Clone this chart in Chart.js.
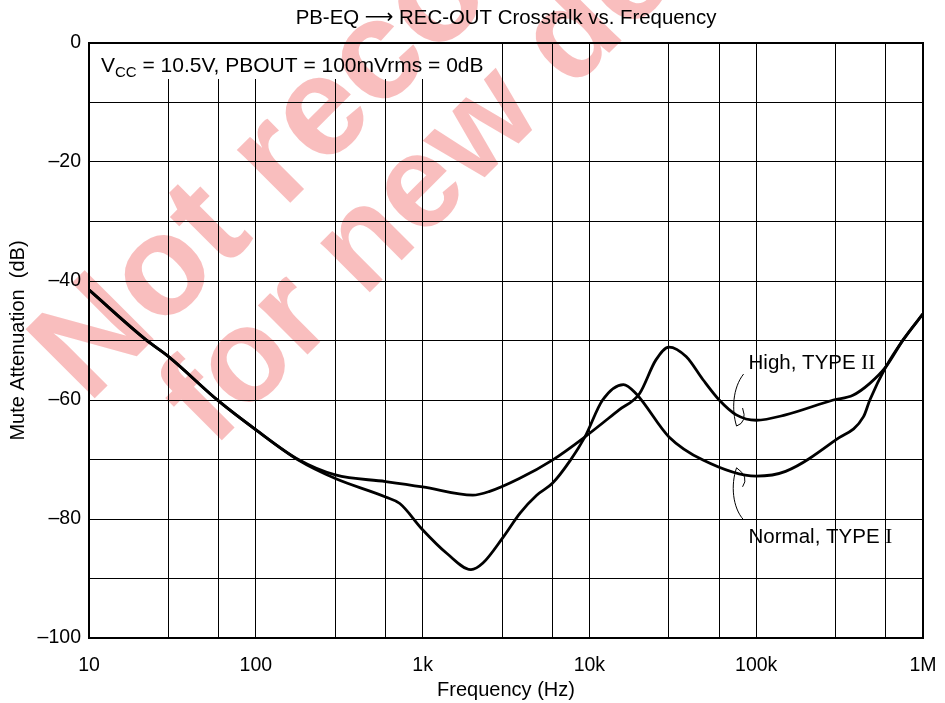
<!DOCTYPE html>
<html>
<head>
<meta charset="utf-8">
<script src="https://cdn.jsdelivr.net/npm/chart.js@4.4.1/dist/chart.umd.min.js"></script>
<style>
  html, body { margin: 0; padding: 0; background: #fff; }
  canvas { display: block; }
</style>
</head>
<body>
<canvas id="crosstalkChart" width="945" height="703"></canvas>
<script>
// PB-EQ -> REC-OUT crosstalk

const highFreq = [10, 22, 30, 60, 100, 180, 300, 600, 1000, 2000, 2500, 3800, 6000, 9400,
  15000, 20000, 25000, 30000, 38000, 48000, 60000, 76000, 100000, 150000, 290000, 380000,
  480000, 600000, 760000, 1000000];
const highDb = [-41.5, -49.9, -52.7, -60.2, -65.0, -70.0, -72.6, -73.7, -74.6, -76.0, -75.4,
  -73.2, -70.1, -66.2, -61.7, -58.9, -53.3, -51.1, -52.7, -56.6, -60.0, -62.5, -63.4, -62.5,
  -60.0, -59.2, -57.2, -54.4, -49.9, -45.5];

const normalFreq = [10, 22, 30, 60, 100, 180, 300, 600, 730, 1000, 1400, 1950, 2300, 3050,
  3840, 4830, 6000, 7700, 9400, 12000, 16000, 19000, 30000, 48000, 100000, 150000, 300000,
  440000, 480000, 600000, 760000, 1000000];
const normalDb = [-41.5, -49.9, -52.7, -60.2, -65.0, -70.1, -73.2, -76.3, -77.4, -81.8, -85.8,
  -88.5, -87.4, -83.0, -79.0, -76.0, -74.0, -70.1, -66.2, -60.0, -57.4, -58.9, -66.2, -70.1,
  -72.8, -72.0, -66.7, -62.8, -60.0, -54.4, -49.9, -45.5];

const xGridValues = [10, 30, 60, 100, 300, 600, 1000, 3000, 6000, 10000, 30000, 60000,
  100000, 300000, 600000, 1000000];
const xTickLabels = { 10: '10', 100: '100', 1000: '1k', 10000: '10k', 100000: '100k', 1000000: '1M' };

const titleParts = ['PB-EQ ', '\u27F6', ' REC-OUT Crosstalk vs. Frequency'];
const seriesLabels = ['High, TYPE ', 'Normal, TYPE '];
const seriesNumerals = ['II', 'I'];
const labelFreq = 90000;
const labelDb = [-54.8, -84.0];

const FONT = "'Liberation Sans', Arial, Helvetica, sans-serif";
const SERIF = "'Liberation Serif', 'Times New Roman', serif";

function toPoints(xs, ys) {
  return xs.map((x, i) => ({ x: x, y: ys[i] }));
}

const decorations = {
  id: 'decorations',
  beforeDraw(chart) {
    const ctx = chart.ctx;
    ctx.save();
    ctx.fillStyle = '#fff';
    ctx.fillRect(0, 0, chart.width, chart.height);
    ctx.restore();
  },
  beforeDatasetsDraw(chart) {
    // condition box in the top-left corner, it hides the grid
    const ctx = chart.ctx;
    const a = chart.chartArea;
    ctx.save();
    ctx.fillStyle = '#fff';
    ctx.fillRect(a.left, a.top, 402, 36);
    ctx.fillStyle = '#000';
    ctx.textBaseline = 'alphabetic';
    let x = a.left + 12;
    ctx.font = '21px ' + FONT;
    ctx.fillText('V', x, a.top + 29);
    x += ctx.measureText('V').width;
    ctx.font = '15px ' + FONT;
    ctx.fillText('CC', x, a.top + 34);
    x += ctx.measureText('CC').width;
    ctx.font = '21px ' + FONT;
    ctx.fillText(' = 10.5V, PBOUT = 100mVrms = 0dB', x, a.top + 29);
    ctx.restore();
  },
  afterDatasetsDraw(chart) {
    const ctx = chart.ctx;
    const a = chart.chartArea;
    const xs = chart.scales.x;
    const ys = chart.scales.y;
    ctx.save();

    // frame
    ctx.strokeStyle = '#000';
    ctx.lineWidth = 2;
    ctx.strokeRect(a.left, a.top, a.right - a.left, a.bottom - a.top);

    // title, the arrow comes from another font
    ctx.fillStyle = '#000';
    ctx.textBaseline = 'middle';
    ctx.textAlign = 'left';
    const fonts = ['20.4px ' + FONT, '20px "DejaVu Sans", ' + FONT, '20.4px ' + FONT];
    const widths = titleParts.map((t, i) => { ctx.font = fonts[i]; return ctx.measureText(t).width; });
    let tx = (a.left + a.right) / 2 - widths.reduce((s, w) => s + w, 0) / 2;
    titleParts.forEach((t, i) => {
      ctx.font = fonts[i];
      ctx.fillText(t, tx, 18);
      tx += widths[i];
    });

    // curve labels
    ctx.textBaseline = 'alphabetic';
    const lx = xs.getPixelForValue(labelFreq);
    seriesLabels.forEach((txt, i) => {
      const ly = ys.getPixelForValue(labelDb[i]);
      ctx.font = '20.5px ' + FONT;
      ctx.fillText(txt, lx, ly);
      const w = ctx.measureText(txt).width;
      ctx.font = '21px ' + SERIF;
      ctx.fillText(seriesNumerals[i], lx + w, ly);
    });

    // leader lines
    ctx.lineWidth = 1;
    const hy = ys.getPixelForValue(labelDb[0]);
    ctx.beginPath();
    ctx.moveTo(lx - 5, hy + 5);
    ctx.bezierCurveTo(lx - 16, hy + 19, lx - 17, hy + 41, lx - 12, hy + 57);
    ctx.quadraticCurveTo(lx - 1, hy + 53, lx - 6, hy + 39);
    ctx.stroke();

    const ny = ys.getPixelForValue(labelDb[1]);
    ctx.beginPath();
    ctx.moveTo(lx - 5, ny - 23);
    ctx.bezierCurveTo(lx - 16, ny - 35, lx - 18, ny - 58, lx - 12, ny - 75);
    ctx.quadraticCurveTo(lx + 1, ny - 66, lx - 6, ny - 56);
    ctx.stroke();
    ctx.restore();
  },
  afterDraw(chart) {
    // "Not recommended for new designs" stamp
    const ctx = chart.ctx;
    ctx.save();
    ctx.globalCompositeOperation = 'multiply';
    ctx.fillStyle = '#f9bebe';
    ctx.textAlign = 'left';
    ctx.textBaseline = 'alphabetic';
    const stamp = [
      { text: 'Not recommended', x: 88, y: 405, size: 142 },
      { text: 'for new designs', x: 213, y: 449, size: 132 }
    ];
    stamp.forEach(s => {
      ctx.save();
      ctx.font = 'bold ' + s.size + 'px ' + FONT;
      ctx.translate(s.x, s.y);
      ctx.rotate(-Math.PI / 4);
      ctx.fillText(s.text, 0, 0);
      ctx.restore();
    });
    ctx.restore();
  }
};

const ctx = document.getElementById('crosstalkChart').getContext('2d');

new Chart(ctx, {
  type: 'line',
  data: {
    datasets: [
      {
        label: 'High, TYPE II',
        data: toPoints(highFreq, highDb),
        borderColor: '#000',
        borderWidth: 2.8,
        pointRadius: 0,
        fill: false,
        cubicInterpolationMode: 'monotone'
      },
      {
        label: 'Normal, TYPE I',
        data: toPoints(normalFreq, normalDb),
        borderColor: '#000',
        borderWidth: 2.8,
        pointRadius: 0,
        fill: false,
        cubicInterpolationMode: 'monotone'
      }
    ]
  },
  options: {
    responsive: false,
    animation: false,
    layout: { padding: { top: 43, right: 22, left: 0, bottom: 0 } },
    plugins: {
      legend: { display: false },
      tooltip: { enabled: false },
      title: { display: false }
    },
    scales: {
      x: {
        type: 'logarithmic',
        min: 10,
        max: 1000000,
        afterBuildTicks: scale => {
          scale.ticks = xGridValues.map(v => ({ value: v }));
        },
        afterFit: scale => {
          scale.height = 65;
          scale.paddingLeft = 0;
          scale.paddingRight = 0;
        },
        ticks: {
          autoSkip: false,
          maxRotation: 0,
          padding: 16,
          color: '#000',
          font: { family: FONT, size: 19.5 },
          callback: v => xTickLabels[v] || ''
        },
        grid: { color: '#000', lineWidth: 1, drawTicks: false },
        border: { display: false },
        title: {
          display: true,
          text: 'Frequency (Hz)',
          color: '#000',
          font: { family: FONT, size: 20 },
          padding: { top: 0, bottom: 1 }
        }
      },
      y: {
        min: -100,
        max: 0,
        afterFit: scale => { scale.width = 89; },
        ticks: {
          stepSize: 10,
          padding: 8,
          color: '#000',
          font: { family: FONT, size: 19.5 },
          callback: v => (v % 20 === 0 ? (v < 0 ? '\u2013' + Math.abs(v) : '0') : '')
        },
        grid: { color: '#000', lineWidth: 1, drawTicks: false },
        border: { display: false },
        title: {
          display: true,
          text: 'Mute Attenuation  (dB)',
          color: '#000',
          font: { family: FONT, size: 20 },
          padding: { top: 6, bottom: 4 }
        }
      }
    }
  },
  plugins: [decorations]
});
</script>
</body>
</html>
